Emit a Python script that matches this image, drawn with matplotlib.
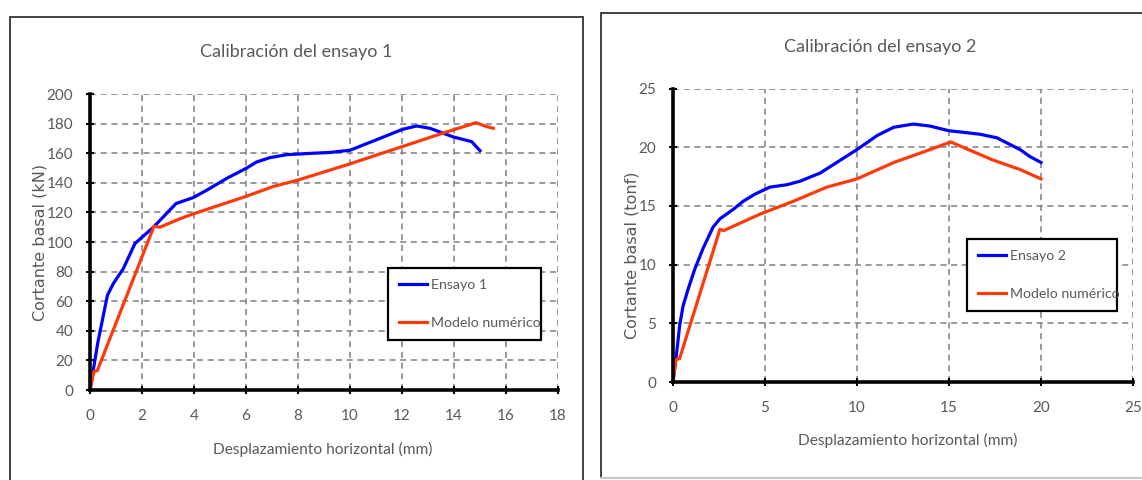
import matplotlib
matplotlib.use("Agg")
import matplotlib.pyplot as plt
from matplotlib.patches import Rectangle
from matplotlib import font_manager

# ---- data: ensayo 1 (kN) ----
ens1_x = [0, 0.3, 0.67, 0.9, 1.28, 1.73, 2.44, 3.31, 3.97, 4.49, 5.26, 6.03, 6.4, 6.92,
          7.56, 8.6, 9.23, 10.0, 11.15, 12.0, 12.56, 13.08, 13.97, 14.68, 15.0]
ens1_y = [0, 32, 64, 72, 82, 99, 110, 126, 130, 135, 143, 150, 154, 157,
          159, 160, 160.5, 162, 170, 176, 178.4, 176.8, 171, 167.8, 161.7]
mod1_x = [0, 0.15, 0.28, 2.46, 2.69, 3.46, 3.97, 5.0, 6.03, 7.05, 7.95, 8.85, 10.0,
          11.15, 12.0, 13.65, 14.85, 15.2, 15.51]
mod1_y = [0, 12.4, 13, 110.6, 110, 115.7, 119, 125, 131, 137.5, 141.6, 146.5, 152.8,
          159.5, 164.4, 174, 180.6, 178.3, 176.8]

# ---- data: ensayo 2 (tonf) ----
ens2_x = [0, 0.18, 0.36, 0.55, 0.82, 1.18, 1.64, 2.18, 2.55, 3.27, 3.82, 4.45, 5.27,
          6.18, 6.9, 8.0, 8.7, 10.0, 11.1, 12.0, 13.06, 13.97, 15.0, 15.6, 16.7, 17.6,
          18.1, 18.86, 19.4, 20.0]
ens2_y = [0, 2.2, 4.8, 6.5, 7.9, 9.6, 11.4, 13.2, 13.9, 14.7, 15.4, 16.0, 16.6,
          16.8, 17.1, 17.8, 18.5, 19.8, 21.0, 21.7, 21.97, 21.8, 21.4, 21.3, 21.1, 20.8,
          20.4, 19.8, 19.2, 18.7]
mod2_x = [0, 0.15, 0.36, 2.55, 2.76, 4.73, 6.55, 8.36, 10.0, 12.0, 13.8, 15.1, 15.6,
          17.4, 18.86, 20.0]
mod2_y = [0, 1.9, 2.0, 13.0, 12.9, 14.3, 15.4, 16.6, 17.3, 18.7, 19.7, 20.45, 20.1,
          18.9, 18.1, 17.3]

titles = ["Calibración del ensayo 1", "Calibración del ensayo 2"]
ylabels = ["Cortante basal (kN)", "Cortante basal (tonf)"]
xlabel = "Desplazamiento horizontal (mm)"
legend1 = ["Ensayo 1", "Modelo numérico"]
legend2 = ["Ensayo 2", "Modelo numérico"]
xticks1 = list(range(0, 19, 2))
yticks1 = list(range(0, 201, 20))
xticks2 = list(range(0, 26, 5))
yticks2 = list(range(0, 26, 5))

avail = {f.name for f in font_manager.fontManager.ttflist}
narrow = [f for f in ["Lato", "Liberation Sans", "DejaVu Sans"] if f in avail] or ["DejaVu Sans"]
wide = [f for f in ["Verdana", "DejaVu Sans"] if f in avail] or ["DejaVu Sans"]

GRAY = "#595959"
BLUE = "#0000FF"
RED = "#FF3A0A"

W, H = 1142, 480
fig = plt.figure(figsize=(W / 100, H / 100), dpi=100)
fig.patch.set_facecolor("white")

# outer chart frames
fig.add_artist(Rectangle((10 / W, -0.1), (583 - 10) / W, 1.1 - 17 / H,
                         transform=fig.transFigure, fill=False,
                         edgecolor="#333333", linewidth=1.3))
fig.add_artist(Rectangle((601 / W, 1 - 478 / H), (1150 - 601) / W, (478 - 13) / H,
                         transform=fig.transFigure, fill=False,
                         edgecolor="#333333", linewidth=1.3))
fig.add_artist(plt.Line2D([601 / W, 1], [1 - 478 / H, 1 - 478 / H],
                          transform=fig.transFigure, color="#c8c8c8", linewidth=1.5))


def px_rect(x0, y0, x1, y1):
    return [x0 / W, 1 - y1 / H, (x1 - x0) / W, (y1 - y0) / H]


def setup(ax, xt, yt, title, ylabel, title_xy, xlabel_xy, ylabel_xy):
    ax.set_xlim(xt[0], xt[-1])
    ax.set_ylim(yt[0], yt[-1])
    ax.set_xticks(xt)
    ax.set_yticks(yt)
    ax.grid(True, color="#7f7f7f", linestyle=(0, (4, 3)), linewidth=1.1)
    for s in ["top", "right"]:
        ax.spines[s].set_visible(False)
    for s in ["left", "bottom"]:
        ax.spines[s].set_linewidth(2.6)
        ax.spines[s].set_color("black")
    ax.tick_params(direction="inout", length=6, width=1.5, color="black",
                   labelcolor=GRAY, labelsize=11)
    ax.tick_params(axis="x", pad=11)
    ax.tick_params(axis="y", pad=9)
    for lab in ax.get_xticklabels() + ax.get_yticklabels():
        lab.set_family(narrow)
    ax.set_axisbelow(True)
    fig.text(title_xy[0] / W, 1 - title_xy[1] / H, title, ha="center", va="center",
             fontsize=13, color=GRAY, family=narrow)
    fig.text(xlabel_xy[0] / W, 1 - xlabel_xy[1] / H, xlabel, ha="center", va="center",
             fontsize=11.2, color=GRAY, family=narrow)
    fig.text(ylabel_xy[0] / W, 1 - ylabel_xy[1] / H, ylabel, ha="center", va="center",
             rotation=90, fontsize=11.5, color=GRAY, family=wide)


def legend(ax, labels, box):
    leg = ax.legend(labels, loc="lower left", bbox_to_anchor=box, mode="expand",
                    frameon=True, fancybox=False, handlelength=1.95, handletextpad=0.3,
                    labelspacing=1.85, borderpad=0.78, borderaxespad=0,
                    prop={"family": narrow, "size": 10.2}, labelcolor=GRAY)
    fr = leg.get_frame()
    fr.set_edgecolor("black")
    fr.set_linewidth(1.6)
    fr.set_facecolor("white")
    fr.set_alpha(1)


# left chart
ax1 = fig.add_axes(px_rect(90, 94, 558, 390))
ax1.plot(ens1_x, ens1_y, color=BLUE, linewidth=2.3)
ax1.plot(mod1_x, mod1_y, color=RED, linewidth=2.3)
setup(ax1, xticks1, yticks1, titles[0], ylabels[0], (296, 52), (323, 449), (40, 242))
legend(ax1, legend1, (0.637, 0.169, 0.327, 0.247))

# right chart
ax2 = fig.add_axes(px_rect(673, 88.5, 1133, 382))
ax2.plot(ens2_x, ens2_y, color=BLUE, linewidth=2.3)
ax2.plot(mod2_x, mod2_y, color=RED, linewidth=2.3)
setup(ax2, xticks2, yticks2, titles[1], ylabels[1], (880, 47), (908, 440), (632, 255))
legend(ax2, legend2, (0.639, 0.242, 0.326, 0.249))

fig.savefig("out.png", dpi=100, facecolor="white")
